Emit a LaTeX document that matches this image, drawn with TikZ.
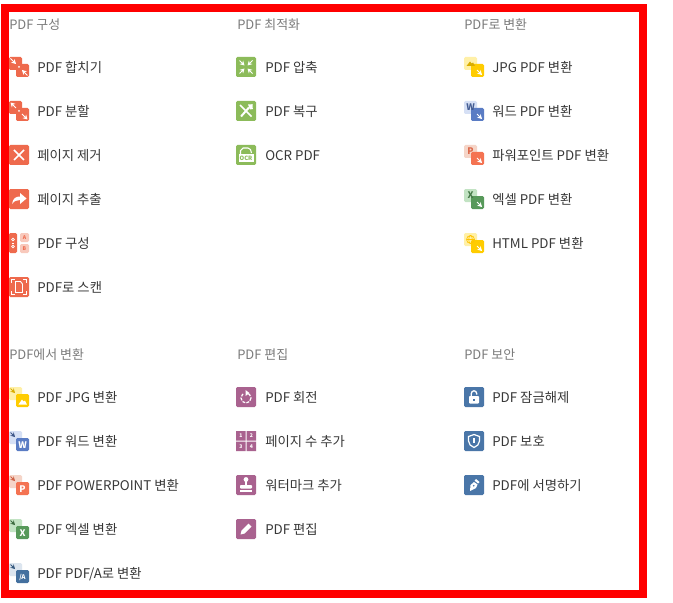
\documentclass[tikz,border=0pt]{standalone}
\usepackage{fontspec}
\setmainfont{Noto Sans CJK KR}
\usetikzlibrary{arrows.meta}
\definecolor{orgc}{HTML}{EE6A4D}
\definecolor{orgl}{HTML}{F8C9BC}
\definecolor{grnc}{HTML}{8CBB5A}
\definecolor{purc}{HTML}{A9628F}
\definecolor{bluc}{HTML}{4A76A8}
\definecolor{yeld}{HTML}{FFCC00}
\definecolor{yell}{HTML}{FFF0A8}
\definecolor{wrdd}{HTML}{5A7CC4}
\definecolor{wrdl}{HTML}{D6E0F5}
\definecolor{pptd}{HTML}{F47352}
\definecolor{pptl}{HTML}{F5D5C8}
\definecolor{xlsd}{HTML}{57995A}
\definecolor{xlsl}{HTML}{C2E3C3}
\definecolor{pdad}{HTML}{44709F}
\definecolor{pdal}{HTML}{DCE5EF}
\definecolor{hdrc}{HTML}{7A7A7A}
\definecolor{txtc}{HTML}{383838}
\tikzset{
  grouphead/.style={anchor=base west,yshift=-3.35pt,inner sep=0pt,text=hdrc,font=\fontsize{9.7}{11}\selectfont},
  itemlabel/.style={anchor=base west,yshift=-3.35pt,inner sep=0pt,text=txtc,font=\fontsize{10}{11}\selectfont},
  wa/.style={draw=white,line width=0.75pt,-{Stealth[length=3.4pt,width=3.8pt]}},
  da/.style={line width=0.75pt,-{Stealth[length=3.2pt,width=3.6pt]}},
  gl/.style={font=\fontsize{6.8}{7}\selectfont\bfseries,inner sep=0pt},
  tiny/.style={font=\fontsize{3.8}{4}\selectfont\bfseries,inner sep=0pt},
}
\newcommand{\sq}[5]{\fill[#1,rounded corners=1pt] (#2,#3) rectangle (#4,#5);}
\newcommand{\full}[1]{\sq{#1}{0}{0}{20}{20}}
\newcommand{\topdown}[4]{%
  \sq{#1}{0}{0}{13}{13}\sq{#2}{7}{7}{20}{20}
  \draw[da,draw=#3] (1.5,1.5) -- (6,6);
  \node[gl,text=white] at (13.5,13.8) {#4};}
\newcommand{\toppdf}[4]{%
  \sq{#1}{0}{0}{13}{13}\sq{#2}{7}{7}{20}{20}
  \node[gl,text=#3] at (6.5,6.3) {#4};
  \draw[wa] (13,13) -- (18,18);}
\begin{document}
\begin{tikzpicture}[x=0.75pt,y=-0.75pt]
\useasboundingbox (0,0) rectangle (673,602);
\fill[white] (0,0) rectangle (673,602);
\draw[red,line width=6pt] (5,8) rectangle (643,594);
% headers
\node[grouphead] (h1) at (9,25) {PDF 구성};
\node[grouphead] (h2) at (237,25) {PDF 최적화};
\node[grouphead] (h3) at (464,25) {PDF로 변환};
\node[grouphead] (h4) at (9,355) {PDF에서 변환};
\node[grouphead] (h5) at (237,355) {PDF 편집};
\node[grouphead] (h6) at (464,355) {PDF 보안};
% column 1, group 1
\node[itemlabel] (a1) at (37,68) {PDF 합치기};
\node[itemlabel] (a2) at (37,112) {PDF 분할};
\node[itemlabel] (a3) at (37,156) {페이지 제거};
\node[itemlabel] (a4) at (37,200) {페이지 추출};
\node[itemlabel] (a5) at (37,244) {PDF 구성};
\node[itemlabel] (a6) at (37,288) {PDF로 스캔};
\begin{scope}[shift={(9,57)}]
  \sq{orgc}{0}{0}{13}{13}\sq{orgc}{7}{7}{20}{20}
  \draw[wa] (1.5,1.5) -- (7,7);
  \draw[wa] (18.5,18.5) -- (13,13);
  \fill[white] (10,10) circle (1);
\end{scope}
\begin{scope}[shift={(9,101)}]
  \sq{orgc}{0}{0}{13}{13}\sq{orgc}{7}{7}{20}{20}
  \draw[wa] (7,7) -- (1.5,1.5);
  \draw[wa] (13,13) -- (18.5,18.5);
  \fill[white] (10,10) circle (1);
\end{scope}
\begin{scope}[shift={(9,145)}]
  \full{orgc}
  \draw[draw=white,line width=1.2pt] (5,5) -- (15,15) (15,5) -- (5,15);
\end{scope}
\begin{scope}[shift={(9,189)}]
  \full{orgc}
  \fill[white] (3,15) .. controls (4,9) and (7,7.5) .. (11,7.5) -- (11,4) -- (17.5,9.5) -- (11,15) -- (11,11) .. controls (8,11) and (5,12) .. (3,15) -- cycle;
\end{scope}
\begin{scope}[shift={(9,233)}]
  \sq{orgc}{0}{0}{8}{20}
  \sq{orgl}{11}{0}{20}{9}\sq{orgl}{11}{11}{20}{20}
  \draw[draw=white,line width=0.5pt] (4,6.5) circle (1.4) (4,13.5) circle (1.4);
  \draw[draw=white,line width=0.5pt] (2.6,10) -- (5.4,10);
  \node[tiny,text=orgc] at (15.5,4.5) {A};
  \node[tiny,text=orgc] at (15.5,15.5) {B};
\end{scope}
\begin{scope}[shift={(9,277)}]
  \full{orgc}
  \draw[draw=white,line width=0.7pt] (2.5,6) -- (2.5,2.5) -- (6,2.5) (14,2.5) -- (17.5,2.5) -- (17.5,6) (17.5,14) -- (17.5,17.5) -- (14,17.5) (6,17.5) -- (2.5,17.5) -- (2.5,14);
  \draw[draw=white,line width=0.7pt] (6.5,4.5) -- (11.5,4.5) -- (13.5,7) -- (13.5,15.5) -- (6.5,15.5) -- cycle;
\end{scope}
% column 2, group 1
\node[itemlabel] (b1) at (265,68) {PDF 압축};
\node[itemlabel] (b2) at (265,112) {PDF 복구};
\node[itemlabel] (b3) at (265,156) {OCR PDF};
\begin{scope}[shift={(236,57)}]
  \full{grnc}
  \draw[wa] (3.5,3.5) -- (8.5,8.5);
  \draw[wa] (16.5,3.5) -- (11.5,8.5);
  \draw[wa] (3.5,16.5) -- (8.5,11.5);
  \draw[wa] (16.5,16.5) -- (11.5,11.5);
\end{scope}
\begin{scope}[shift={(236,101)}]
  \full{grnc}
  \draw[draw=white,line width=1.1pt] (4,4) -- (15.5,15.5);
  \draw[draw=white,line width=1.5pt] (13,6.5) -- (5,15.5);
  \fill[white] (12,3.5) -- (16.5,3.2) -- (16.8,8) -- (14,8.5) -- cycle;
\end{scope}
\begin{scope}[shift={(236,145)}]
  \full{grnc}
  \draw[draw=white,line width=0.8pt] (4.5,10) -- (4.5,5.5) -- (7,3) -- (12,3) .. controls (14,3.5) and (15.5,5) .. (15.5,8);
  \fill[white] (2.5,9.5) rectangle (17.5,17.5);
  \node[font=\fontsize{4.4}{5}\selectfont\bfseries,inner sep=0pt,text=grnc] at (10,13.6) {OCR};
\end{scope}
% column 3, group 1
\node[itemlabel] (c1) at (492,68) {JPG PDF 변환};
\node[itemlabel] (c2) at (492,112) {워드 PDF 변환};
\node[itemlabel] (c3) at (492,156) {파워포인트 PDF 변환};
\node[itemlabel] (c4) at (492,200) {엑셀 PDF 변환};
\node[itemlabel] (c5) at (492,244) {HTML PDF 변환};
\begin{scope}[shift={(464,57)}]
  \toppdf{yell}{yeld}{yeld}{}
  \fill[yeld!85!black] (2.5,9) -- (6,4.5) -- (7.5,6.5) -- (9,5.5) -- (11,9) -- cycle;
\end{scope}
\begin{scope}[shift={(464,101)}]
  \toppdf{wrdl}{wrdd}{wrdd!75!black}{W}
\end{scope}
\begin{scope}[shift={(464,145)}]
  \toppdf{pptl}{pptd}{pptd!90!black}{P}
\end{scope}
\begin{scope}[shift={(464,189)}]
  \toppdf{xlsl}{xlsd}{xlsd!80!black}{X}
\end{scope}
\begin{scope}[shift={(464,233)}]
  \toppdf{yell}{yeld}{yeld}{}
  \draw[draw=yeld!90!orange,line width=0.5pt] (6.5,6.5) circle (4) (2.5,6.5) -- (10.5,6.5);
  \draw[draw=yeld!90!orange,line width=0.5pt] (6.5,6.5) ellipse (1.8 and 4);
\end{scope}
% column 1, group 2
\node[itemlabel] (d1) at (37,398) {PDF JPG 변환};
\node[itemlabel] (d2) at (37,442) {PDF 워드 변환};
\node[itemlabel] (d3) at (37,486) {PDF POWERPOINT 변환};
\node[itemlabel] (d4) at (37,530) {PDF 엑셀 변환};
\node[itemlabel] (d5) at (37,574) {PDF PDF/A로 변환};
\begin{scope}[shift={(9,387)}]
  \topdown{yell}{yeld}{yeld!85!black}{}
  \fill[white] (9.5,17.5) -- (13,12.5) -- (14.5,14.5) -- (16,13.5) -- (18,17.5) -- cycle;
\end{scope}
\begin{scope}[shift={(9,431)}]
  \topdown{wrdl}{wrdd}{wrdd!70!black}{W}
\end{scope}
\begin{scope}[shift={(9,475)}]
  \topdown{pptl}{pptd}{pptd!85!black}{P}
\end{scope}
\begin{scope}[shift={(9,519)}]
  \topdown{xlsl}{xlsd}{xlsd!70!black}{X}
\end{scope}
\begin{scope}[shift={(9,563)}]
  \sq{pdal}{0}{0}{13}{13}\sq{pdad}{7}{7}{20}{20}
  \draw[da,draw=pdad!80!black] (1.5,1.5) -- (6,6);
  \node[font=\fontsize{4.8}{5}\selectfont\bfseries,inner sep=0pt,text=white] at (13.5,14) {/A};
\end{scope}
% column 2, group 2
\node[itemlabel] (e1) at (265,398) {PDF 회전};
\node[itemlabel] (e2) at (265,442) {페이지 수 추가};
\node[itemlabel] (e3) at (265,486) {워터마크 추가};
\node[itemlabel] (e4) at (265,530) {PDF 편집};
\begin{scope}[shift={(236,387)}]
  \full{purc}
  \draw[draw=white,line width=0.9pt,dash pattern=on 2.2pt off 1pt] (10,11) circle (5);
  \fill[purc] (7.5,3) rectangle (10,7.5);
  \fill[white] (9.5,3) -- (13.5,6) -- (9.5,9) -- cycle;
\end{scope}
\begin{scope}[shift={(236,431)}]
  \fill[purc] (0,0) rectangle (9.5,9.5) (10.5,0) rectangle (20,9.5) (0,10.5) rectangle (9.5,20) (10.5,10.5) rectangle (20,20);
  \node[tiny,text=white] at (4.8,4.8) {1};
  \node[tiny,text=white] at (15.3,4.8) {2};
  \node[tiny,text=white] at (4.8,15.3) {3};
  \node[tiny,text=white] at (15.3,15.3) {4};
\end{scope}
\begin{scope}[shift={(236,475)}]
  \full{purc}
  \fill[white] (10,4.5) circle (2.4);
  \fill[white] (8.6,5) rectangle (11.4,10);
  \fill[white,rounded corners=0.6pt] (4,10) rectangle (16,13.5);
  \fill[white] (4,15) rectangle (16,16.5);
\end{scope}
\begin{scope}[shift={(236,519)}]
  \full{purc}
  \fill[white] (4.5,15.5) -- (5.5,11.5) -- (12.5,4.5) -- (15.5,7.5) -- (8.5,14.5) -- cycle;
\end{scope}
% column 3, group 2
\node[itemlabel] (f1) at (492,398) {PDF 잠금해제};
\node[itemlabel] (f2) at (492,442) {PDF 보호};
\node[itemlabel] (f3) at (492,486) {PDF에 서명하기};
\begin{scope}[shift={(464,387)}]
  \full{bluc}
  \fill[white,rounded corners=0.6pt] (5,9) rectangle (15,16.5);
  \draw[draw=white,line width=1pt] (7.3,9) -- (7.3,6.5) arc[start angle=180,end angle=360,radius=2.7] -- (12.7,7.5);
  \fill[bluc] (9.2,11.5) rectangle (10.8,14);
\end{scope}
\begin{scope}[shift={(464,431)}]
  \full{bluc}
  \draw[draw=white,line width=0.9pt] (10,3.5) -- (15.5,5.5) -- (15.5,10) .. controls (15.5,13) and (13,15.5) .. (10,16.5) .. controls (7,15.5) and (4.5,13) .. (4.5,10) -- (4.5,5.5) -- cycle;
  \fill[white] (9.3,7) rectangle (10.7,11.5);
\end{scope}
\begin{scope}[shift={(464,475)}]
  \full{bluc}
  \fill[white] (6,16) -- (6.5,10) -- (10,7) -- (13.5,9.5) -- (12,13) -- cycle;
  \fill[white] (10.5,5.5) -- (12,4) -- (15.5,7) -- (14,8.5) -- cycle;
  \fill[bluc] (9.7,10.7) circle (0.9);
\end{scope}
\end{tikzpicture}
\end{document}
